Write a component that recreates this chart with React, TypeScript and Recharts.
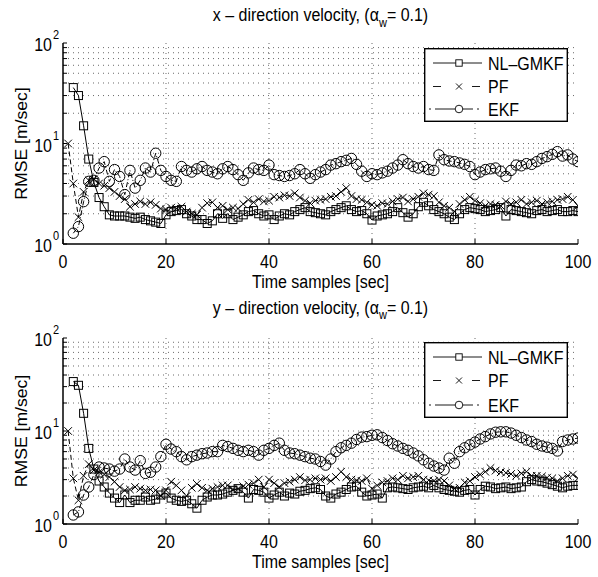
import React from 'react';
import { LineChart, Line, XAxis, YAxis, ReferenceLine, Legend, Label } from 'recharts';

// time samples 1..100
const TIME = Array.from({ length: 100 }, (_, i) => i + 1);

const X_TICKS = [0, 20, 40, 60, 80, 100];
const Y_TICKS = [1, 2, 3, 4, 5, 6, 7, 8, 9, 10, 20, 30, 40, 50, 60, 70, 80, 90, 100];
const GRID_X = [20, 40, 60, 80];
const GRID_Y = [2, 3, 4, 5, 6, 7, 8, 9, 10, 20, 30, 40, 50, 60, 70, 80, 90];

const SERIES = ['NL–GMKF', 'PF', 'EKF'];

// x - direction velocity
const X_GMKF = [
  null, 36, 30, 15, 7.0, 4.1, 2.9, 2.35, 1.95, 1.9,
  1.9, 1.9, 1.85, 1.8, 1.85, 1.75, 1.7, 1.65, 1.6, 1.95,
  2.1, 2.15, 2.2, 2.0, 1.9, 1.75, 1.75, 1.6, 1.7, 2.0,
  1.8, 2.0, 1.75, 1.85, 1.95, 2.1, 2.15, 2.0, 1.9, 1.95,
  1.75, 1.9, 2.0, 1.95, 2.1, 2.2, 2.3, 2.1, 2.05, 2.0,
  1.95, 2.1, 2.2, 2.3, 2.4, 2.2, 2.1, 2.15, 2.0, 1.73,
  1.9, 1.95, 2.0, 2.1, 2.3, 2.05, 1.85, 2.0, 2.35, 2.6,
  2.4, 2.2, 2.1, 2.0, 1.85, 1.75, 2.0, 2.2, 2.3, 2.25,
  2.2, 2.1, 2.15, 2.2, 2.3, 1.9, 2.2, 2.15, 2.1, 2.05,
  2.0, 2.15, 2.2, 2.1, 2.15, 2.2, 2.1, 2.1, 2.15, 2.1,
];
const X_PF = [
  10, 4.0, 1.85, 3.3, 4.3, 4.4, 4.0, 3.8, 3.6, 3.3,
  3.0, 2.8, 2.35, 2.5, 2.65, 2.5, 2.6, 2.45, 2.25, 2.2,
  2.3, 2.25, 2.35, 2.1, 2.0, 1.95, 2.3, 2.55, 2.6, 2.3,
  2.4, 2.2, 2.3, 2.25, 2.5, 2.75, 2.6, 2.8, 2.65, 2.7,
  2.95, 2.9, 3.05, 3.0, 3.2, 2.9, 2.7, 2.55, 2.7, 2.75,
  2.8, 2.95, 3.0, 3.3, 3.6, 3.0, 2.8, 2.75, 2.6, 2.45,
  2.4, 2.55, 2.5, 2.65, 2.8, 2.9, 2.65, 2.8, 2.95, 3.2,
  3.1, 3.0, 2.6, 2.4, 2.3, 2.1, 2.5, 2.75, 2.95, 2.7,
  2.55, 2.4, 2.5, 2.45, 2.4, 2.65, 2.5, 2.6, 2.75, 2.5,
  2.6, 2.7, 2.5, 2.6, 2.65, 2.75, 2.8, 2.95, 2.75, 2.4,
];
const X_EKF = [
  null, 1.28, 1.49, 2.64, 4.2, 4.3, 5.7, 6.6, 4.2, 5.5,
  4.7, 3.1, 5.4, 3.6, 4.3, 5.7, 5.2, 8.0, 5.4, 4.7,
  4.3, 4.2, 5.9, 5.4, 5.2, 5.6, 5.9, 5.4, 5.2, 5.0,
  5.6, 5.9, 5.5, 4.9, 4.3, 5.1, 5.7, 5.5, 5.4, 6.1,
  4.9, 4.8, 4.7, 4.8, 5.0, 5.5, 5.0, 4.5, 4.9, 5.2,
  5.5, 6.1, 6.3, 6.6, 6.8, 7.1, 6.2, 5.3, 4.7, 5.0,
  4.9, 5.1, 5.3, 5.7, 6.1, 6.9, 6.3, 5.9, 5.7, 5.9,
  5.5, 5.4, 7.7, 6.9, 6.7, 6.6, 6.4, 6.2, 5.9, 4.9,
  5.2, 5.5, 5.6, 5.7, 5.3, 4.7, 5.4, 6.1, 6.0, 6.3,
  6.2, 6.6, 7.1, 7.4, 7.8, 8.3, 7.5, 7.7, 7.0, 6.6,
];

// y - direction velocity
const Y_GMKF = [
  null, 34, 31, 15.5, 6.5, 3.9, 2.9, 2.5, 2.15, 1.9,
  1.7, 2.05, 1.7, 1.8, 1.8, 1.95, 1.8, 1.85, 2.05, 2.15,
  1.9, 1.8, 1.75, 1.8, 1.65, 1.48, 1.8, 1.95, 2.05, 2.05,
  2.1, 2.2, 2.3, 2.4, 2.2, 1.9, 2.35, 2.3, 2.2, 1.9,
  2.05, 2.2, 2.0, 2.15, 2.1, 2.25, 2.3, 2.4, 2.45, 2.35,
  2.0, 1.9, 2.1, 2.2, 2.35, 2.5, 2.55, 2.2, 2.0, 2.05,
  2.1, 1.9, 2.45, 2.5, 2.45, 2.4, 2.35, 2.45, 2.5, 2.55,
  2.45, 2.6, 2.45, 2.35, 2.3, 2.25, 2.2, 2.3, 2.35, 2.05,
  2.35, 2.55, 2.5, 2.4, 2.45, 2.5, 2.4, 2.45, 2.5, 2.85,
  3.0, 2.9, 2.85, 2.75, 2.65, 2.55, 2.45, 2.55, 2.6, 2.6,
];
const Y_PF = [
  10, 3.1, 1.8, 3.3, 4.4, 3.8, 3.6, 3.4, 3.2, 2.85,
  2.5, 2.3, 2.35, 2.5, 2.4, 2.3, 2.35, 2.3, 2.0, 2.3,
  2.85, 2.6, 2.3, 2.0, 2.45, 2.7, 2.45, 2.3, 2.4, 2.5,
  2.6, 2.6, 2.35, 2.4, 2.55, 2.65, 2.75, 3.0, 2.5, 3.0,
  2.75, 2.5, 2.75, 2.85, 3.0, 3.2, 2.95, 3.0, 3.1, 3.0,
  3.1, 2.9, 3.2, 3.65, 3.2, 3.0, 2.95, 2.9, 3.1, 2.4,
  2.6, 2.8, 2.9, 3.1, 3.0, 3.3, 3.1, 3.2, 3.3, 3.0,
  2.95, 2.9, 3.0, 2.9, 2.6, 2.4, 2.45, 2.8, 2.9, 3.2,
  3.4, 3.65, 4.0, 3.75, 3.6, 3.55, 3.45, 3.3, 3.5, 3.65,
  3.3, 3.3, 3.25, 3.15, 3.1, 2.9, 3.1, 3.3, 3.4, 3.1,
];
const Y_EKF = [
  null, 1.25, 1.35, 2.05, 2.5, 3.4, 4.1, 4.0, 3.9, 3.7,
  3.9, 5.0, 4.1, 3.8, 4.8, 3.5, 3.6, 4.1, 5.3, 7.2,
  6.4, 6.0, 5.3, 4.9, 5.3, 5.5, 5.7, 5.8, 6.0, 6.0,
  7.0, 6.8, 6.5, 6.2, 6.0, 6.2, 6.0, 5.5, 6.2, 6.5,
  7.0, 7.4, 6.2, 5.8, 5.7, 5.5, 5.3, 5.1, 5.0, 4.7,
  4.3, 5.0, 6.0, 6.6, 7.0, 7.4, 8.1, 8.6, 8.7, 9.0,
  9.1, 8.5, 7.9, 7.3, 6.9, 6.5, 6.2, 5.8, 5.4, 4.9,
  4.5, 4.2, 4.0, 3.8, 5.1, 4.5, 6.0, 6.6, 7.1, 7.6,
  8.2, 8.7, 9.3, 9.7, 9.8, 9.8, 9.5, 9.0, 8.5, 8.0,
  7.7, 7.2, 6.9, 6.7, 6.5, 6.1, 7.7, 8.0, 8.2, 8.4,
];

const FONT = '"Liberation Sans", Arial, Helvetica, sans-serif';
const STRETCH = 1.1; // the original figure is slightly taller than wide
const PLOT_LEFT = 63;
const PLOT_W = 515;
const AXIS = { stroke: '#000', strokeWidth: 1.5 };
const TICKLINE = { stroke: '#000', strokeWidth: 1 };
const GRID = { stroke: '#444', strokeWidth: 0.8, strokeDasharray: '1 4' };
const LW = 1;

const Txt = ({ x, y, anchor = 'middle', size = 16, rotate = false, children }: any) => {
  const transform = rotate
    ? `translate(${x},${y}) rotate(-90) scale(${STRETCH},1)`
    : `translate(${x},${y}) scale(1,${STRETCH})`;
  return (
    <text transform={transform} textAnchor={anchor} fontFamily={FONT} fontSize={size} fill="#000">
      {children}
    </text>
  );
};

const noLabel = () => <g />;

const xTick = ({ x, y, payload }: any) => (
  <g>
    <Txt x={x} y={y + 24}>{payload.value}</Txt>
  </g>
);

const yTick = ({ x, y, payload }: any) => {
  const v = payload.value;
  const p = Math.round(Math.log10(v));
  if (Math.abs(Math.pow(10, p) - v) > 1e-6) return <g />;
  return (
    <g>
      <Txt x={x - 11} y={y + 8} anchor="end">10</Txt>
      <Txt x={x - 10} y={y - 4} anchor="start" size={11}>{p}</Txt>
    </g>
  );
};

const square = (p: any) => {
  const { cx, cy, index } = p;
  if (!Number.isFinite(cx) || !Number.isFinite(cy)) return <g key={`s${index}`} />;
  return <rect key={`s${index}`} x={cx - 4} y={cy - 4} width={8} height={8} fill="none" stroke="#000" strokeWidth={LW} />;
};

const cross = (p: any) => {
  const { cx, cy, index } = p;
  if (!Number.isFinite(cx) || !Number.isFinite(cy)) return <g key={`x${index}`} />;
  const d = 3.8;
  return (
    <path key={`x${index}`} d={`M${cx - d},${cy - d}L${cx + d},${cy + d}M${cx - d},${cy + d}L${cx + d},${cy - d}`}
      stroke="#000" strokeWidth={LW} fill="none" />
  );
};

const circle = (p: any) => {
  const { cx, cy, index } = p;
  if (!Number.isFinite(cx) || !Number.isFinite(cy)) return <g key={`o${index}`} />;
  return <circle key={`o${index}`} cx={cx} cy={cy} r={5.2} fill="none" stroke="#000" strokeWidth={LW} />;
};

const LegendBox = ({ h }: { h: number }) => {
  const rows = [15, 38.5, h - 13];
  return (
    <svg width={144} height={h} style={{ display: 'block' }}>
      <rect x={0.7} y={0.7} width={142.6} height={h - 1.4} fill="#fff" stroke="#000" strokeWidth={1.4} />
      <g stroke="#000" strokeWidth={0.9} fill="none">
        <line x1={9} x2={58} y1={rows[0]} y2={rows[0]} />
        <rect x={31.8} y={rows[0] - 3.2} width={6.4} height={6.4} fill="#fff" />
        <line x1={9} x2={17} y1={rows[1]} y2={rows[1]} />
        <line x1={48} x2={56} y1={rows[1]} y2={rows[1]} />
        <path d={`M32,${rows[1] - 3}L38,${rows[1] + 3}M32,${rows[1] + 3}L38,${rows[1] - 3}`} />
        <line x1={5} x2={7} y1={rows[2]} y2={rows[2]} />
        <line x1={11} x2={31} y1={rows[2]} y2={rows[2]} />
        <circle cx={35} cy={rows[2]} r={3.8} />
        <line x1={39} x2={49} y1={rows[2]} y2={rows[2]} />
        <line x1={53} x2={55} y1={rows[2]} y2={rows[2]} />
      </g>
      {SERIES.map((s, i) => (
        <Txt key={s} x={64} y={rows[i] + 6.5} anchor="start">{s}</Txt>
      ))}
    </svg>
  );
};

const Panel = ({ axisName, gmkf, pf, ekf, height, top, bottom, titleGap, legendTop, legendH }: any) => {
  const rows = TIME.map((t, i) => ({ t, gmkf: gmkf[i], pf: pf[i], ekf: ekf[i] }));
  return (
    <LineChart width={598} height={height} data={rows} margin={{ top, right: 20, bottom, left: 0 }}>
      {GRID_X.map((v) => <ReferenceLine key={`gx${v}`} x={v} {...GRID} />)}
      {GRID_Y.map((v) => <ReferenceLine key={`gy${v}`} y={v} {...GRID} />)}
      <XAxis dataKey="t" type="number" domain={[0, 100]} ticks={X_TICKS} interval={0} height={44}
        tickSize={-5} tickMargin={5} tick={xTick} axisLine={AXIS} tickLine={TICKLINE} allowDataOverflow>
        <Label content={({ viewBox }: any) => (
          <Txt x={viewBox.x + viewBox.width / 2} y={viewBox.y + 44}>Time samples [sec]</Txt>
        )} />
      </XAxis>
      <XAxis xAxisId="top" orientation="top" dataKey="t" type="number" domain={[0, 100]} ticks={X_TICKS}
        interval={0} height={0} tickSize={-5} tickMargin={0} tick={noLabel} axisLine={AXIS} tickLine={TICKLINE}
        allowDataOverflow />
      <YAxis type="number" scale="log" domain={[1, 100]} ticks={Y_TICKS} interval={0} width={63}
        tickSize={-4} tickMargin={4} tick={yTick} axisLine={AXIS} tickLine={TICKLINE} allowDataOverflow>
        <Label content={({ viewBox }: any) => (
          <g>
            <Txt x={viewBox.x + 27} y={viewBox.y + viewBox.height / 2} rotate>RMSE [m/sec]</Txt>
            <Txt x={PLOT_LEFT + PLOT_W / 2} y={top - titleGap}>
              {`${axisName} – direction velocity, (α`}
              <tspan fontSize={11} dy={5}>w</tspan>
              <tspan dy={-5}>= 0.1)</tspan>
            </Txt>
          </g>
        )} />
      </YAxis>
      <YAxis yAxisId="right" orientation="right" type="number" scale="log" domain={[1, 100]} ticks={Y_TICKS}
        interval={0} width={0} tickSize={-4} tickMargin={0} tick={noLabel} axisLine={AXIS} tickLine={TICKLINE}
        allowDataOverflow />
      <Line dataKey="gmkf" name={SERIES[0]} stroke="#000" strokeWidth={LW} dot={square} activeDot={false}
        isAnimationActive={false} />
      <Line dataKey="pf" name={SERIES[1]} stroke="#000" strokeWidth={LW} strokeDasharray="5 3" dot={cross}
        activeDot={false} isAnimationActive={false} />
      <Line dataKey="ekf" name={SERIES[2]} stroke="#000" strokeWidth={LW} strokeDasharray="5 2 1 2" dot={circle}
        activeDot={false} isAnimationActive={false} />
      <Legend layout="vertical" align="center" verticalAlign="middle" content={() => <LegendBox h={legendH} />}
        wrapperStyle={{ top: legendTop, left: 424, width: 144, height: legendH }} />
    </LineChart>
  );
};

export default function App() {
  return (
    <div style={{ position: 'absolute', left: 0, top: 0, width: 598, height: 577, background: '#fff', overflow: 'hidden' }}>
      <div style={{ position: 'absolute', left: 0, top: 0 }}>
        <Panel axisName="x" gmkf={X_GMKF} pf={X_PF} ekf={X_EKF} height={296} top={43} bottom={8}
          titleGap={22} legendTop={48} legendH={74} />
      </div>
      <div style={{ position: 'absolute', left: 0, top: 290 }}>
        <Panel axisName="y" gmkf={Y_GMKF} pf={Y_PF} ekf={Y_EKF} height={287} top={48} bottom={9}
          titleGap={24.5} legendTop={52} legendH={76} />
      </div>
    </div>
  );
}
